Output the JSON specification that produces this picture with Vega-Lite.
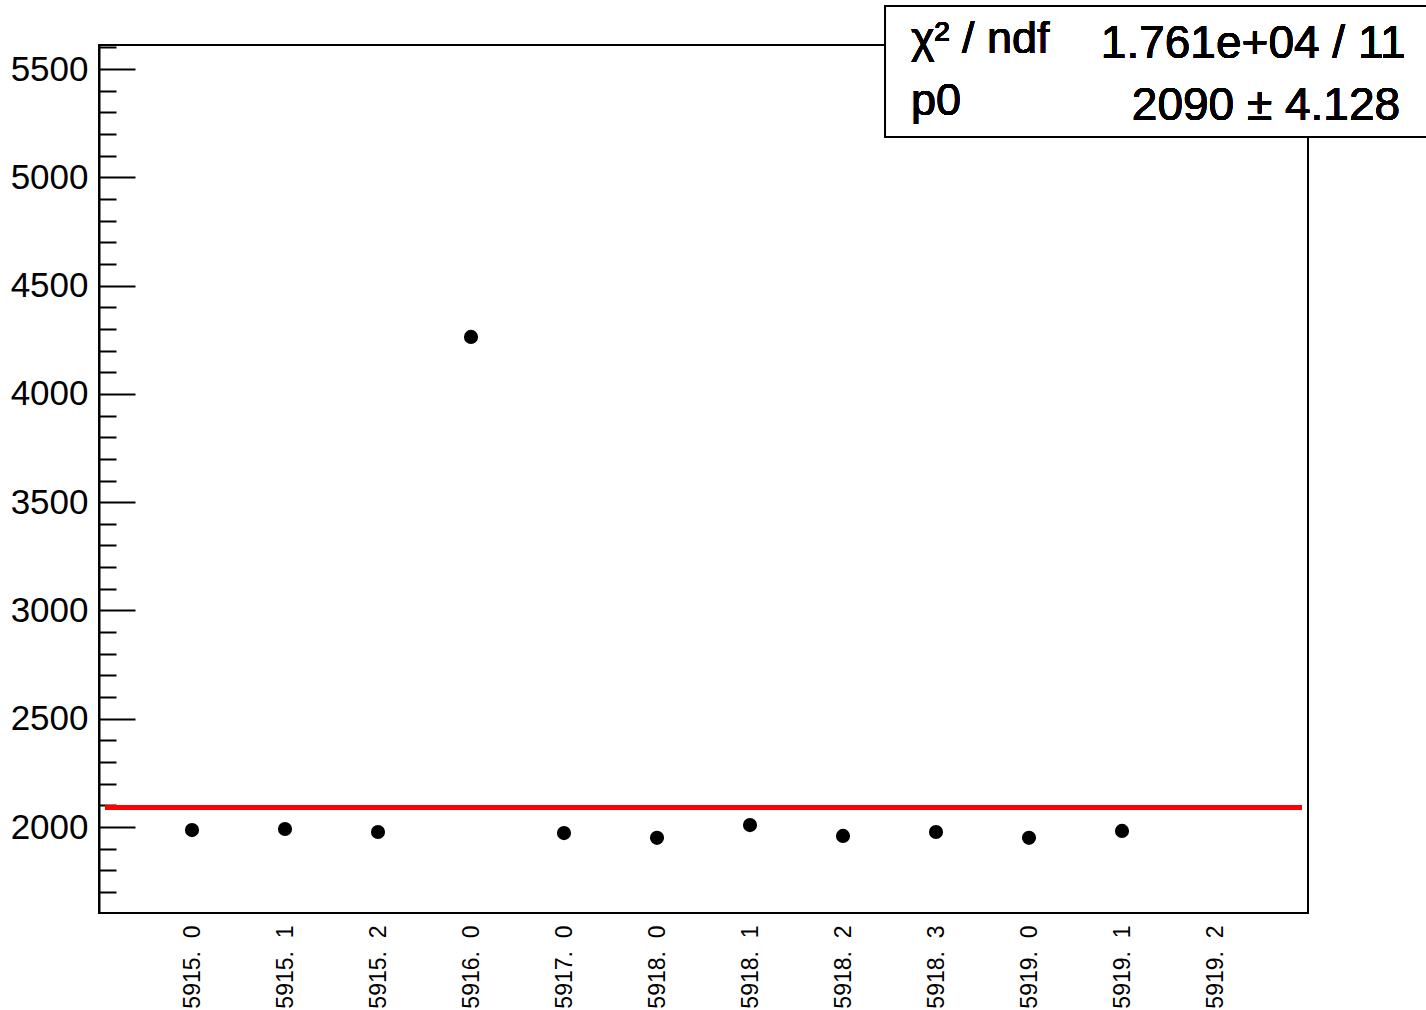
{
  "$schema": "https://vega.github.io/schema/vega-lite/v6.json",
  "width": 1209,
  "height": 868,
  "autosize": "none",
  "padding": {"left": 99, "top": 45, "right": 118, "bottom": 97},
  "background": "white",
  "config": {
    "view": {"stroke": "black", "strokeWidth": 2},
    "font": "Liberation Sans"
  },
  "data": {"values": [
    {"idx": 1, "run": "5915. 0", "value": 1986},
    {"idx": 2, "run": "5915. 1", "value": 1991},
    {"idx": 3, "run": "5915. 2", "value": 1977},
    {"idx": 4, "run": "5916. 0", "value": 4263},
    {"idx": 5, "run": "5917. 0", "value": 1972},
    {"idx": 6, "run": "5918. 0", "value": 1950},
    {"idx": 7, "run": "5918. 1", "value": 2009},
    {"idx": 8, "run": "5918. 2", "value": 1959},
    {"idx": 9, "run": "5918. 3", "value": 1977},
    {"idx": 10, "run": "5919. 0", "value": 1950},
    {"idx": 11, "run": "5919. 1", "value": 1982}
  ]},
  "resolve": {"axis": {"y": "independent"}},
  "layer": [
    {
      "mark": {"type": "circle", "size": 200, "color": "black", "opacity": 1},
      "encoding": {
        "x": {"field": "idx", "type": "quantitative",
          "scale": {"domain": [0, 13], "nice": false, "zero": false},
          "axis": {"title": null, "values": [1,2,3,4,5,6,7,8,9,10,11,12],
            "labelExpr": "['5915.\u00a0\u00a00','5915.\u00a0\u00a01','5915.\u00a0\u00a02','5916.\u00a0\u00a00','5917.\u00a0\u00a00','5918.\u00a0\u00a00','5918.\u00a0\u00a01','5918.\u00a0\u00a02','5918.\u00a0\u00a03','5919.\u00a0\u00a00','5919.\u00a0\u00a01','5919.\u00a0\u00a02'][datum.value - 1]",
            "labelAngle": 270, "labelFontSize": 23, "labelColor": "black", "labelPadding": 12,
            "ticks": false, "domain": false, "grid": false, "labelFont": "Liberation Sans"}},
        "y": {"field": "value", "type": "quantitative",
          "scale": {"domain": [1603, 5611], "nice": false, "zero": false},
          "axis": {"title": null, "orient": "left", "values": [2000,2500,3000,3500,4000,4500,5000,5500],
            "format": "d", "labelFontSize": 35, "labelColor": "black", "labelPadding": 11,
            "ticks": false, "domain": true, "domainColor": "black", "domainWidth": 2, "grid": false,
            "labelFont": "Liberation Sans"}}
      }
    },
    {
      "mark": {"type": "rule", "color": "#ff0000", "strokeWidth": 4},
      "encoding": {
        "x": {"datum": 0.065, "type": "quantitative", "scale": {"domain": [0, 13], "nice": false, "zero": false}},
        "x2": {"datum": 12.935},
        "y": {"datum": 2090, "type": "quantitative",
          "scale": {"domain": [1603, 5611], "nice": false, "zero": false},
          "axis": {"title": null, "orient": "left", "values": [2000,2500,3000,3500,4000,4500,5000,5500],
            "labels": false, "domain": false, "grid": false, "ticks": true,
            "tickSize": -36, "tickColor": "black", "tickWidth": 2}}
      }
    },
    {
      "mark": {"type": "rect", "fill": "white", "stroke": "black", "strokeWidth": 2},
      "encoding": {
        "x": {"datum": 8.452, "type": "quantitative", "scale": {"domain": [0, 13], "nice": false, "zero": false}},
        "x2": {"datum": 14.6},
        "y": {"datum": 5791, "type": "quantitative",
          "scale": {"domain": [1603, 5611], "nice": false, "zero": false},
          "axis": {"title": null, "orient": "left",
            "values": [1700,1800,1900,2100,2200,2300,2400,2600,2700,2800,2900,3100,3200,3300,3400,3600,3700,3800,3900,4100,4200,4300,4400,4600,4700,4800,4900,5100,5200,5300,5400,5600],
            "labels": false, "domain": false, "grid": false, "ticks": true,
            "tickSize": -17, "tickColor": "black", "tickWidth": 2}},
        "y2": {"datum": 5186}
      }
    },
    {
      "mark": {"type": "text", "align": "left", "baseline": "alphabetic", "fontSize": 45, "color": "black", "font": "Liberation Sans"},
      "encoding": {
        "x": {"datum": 8.73, "type": "quantitative", "scale": {"domain": [0, 13], "nice": false, "zero": false}},
        "y": {"datum": 5574, "type": "quantitative", "scale": {"domain": [1603, 5611], "nice": false, "zero": false}, "axis": null},
        "text": {"value": "χ² / ndf"}
      }
    },
    {
      "mark": {"type": "text", "align": "left", "baseline": "alphabetic", "fontSize": 45, "color": "black", "font": "Liberation Sans"},
      "encoding": {
        "x": {"datum": 8.73, "type": "quantitative", "scale": {"domain": [0, 13], "nice": false, "zero": false}},
        "y": {"datum": 5288, "type": "quantitative", "scale": {"domain": [1603, 5611], "nice": false, "zero": false}, "axis": null},
        "text": {"value": "p0"}
      }
    },
    {
      "mark": {"type": "text", "align": "right", "baseline": "alphabetic", "fontSize": 46, "color": "black", "font": "Liberation Sans"},
      "encoding": {
        "x": {"datum": 14.05, "type": "quantitative", "scale": {"domain": [0, 13], "nice": false, "zero": false}},
        "y": {"datum": 5551, "type": "quantitative", "scale": {"domain": [1603, 5611], "nice": false, "zero": false}, "axis": null},
        "text": {"value": "1.761e+04 / 11"}
      }
    },
    {
      "mark": {"type": "text", "align": "right", "baseline": "alphabetic", "fontSize": 46, "color": "black", "font": "Liberation Sans"},
      "encoding": {
        "x": {"datum": 13.99, "type": "quantitative", "scale": {"domain": [0, 13], "nice": false, "zero": false}},
        "y": {"datum": 5265, "type": "quantitative", "scale": {"domain": [1603, 5611], "nice": false, "zero": false}, "axis": null},
        "text": {"value": "2090 ± 4.128"}
      }
    }
  ]
}
